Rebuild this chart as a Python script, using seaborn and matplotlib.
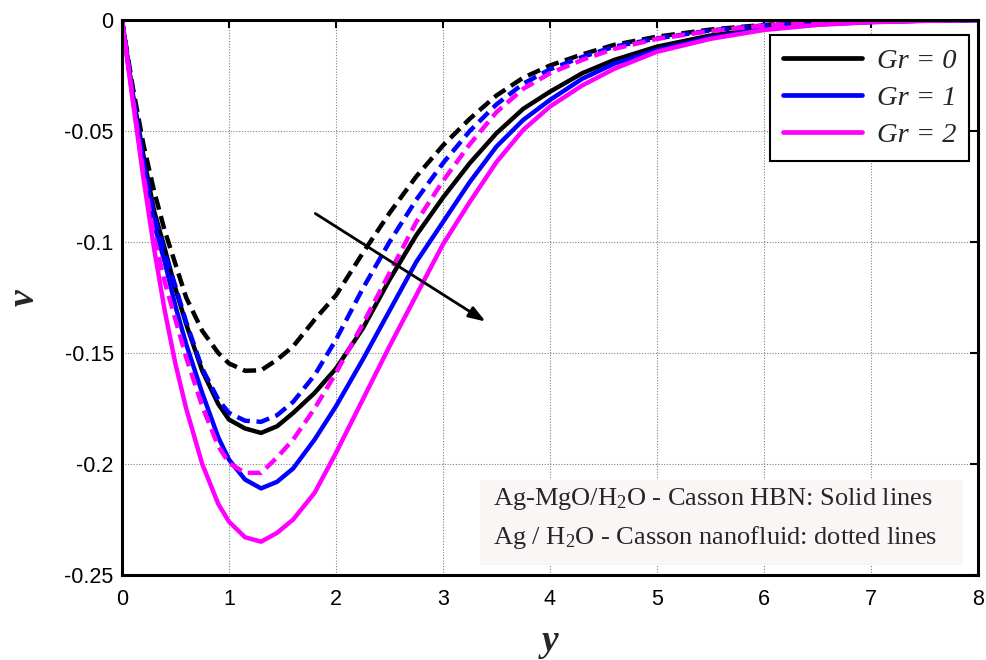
import numpy as np
import pandas as pd
import matplotlib
matplotlib.use("Agg")
import matplotlib.pyplot as plt
import seaborn as sns
from matplotlib.lines import Line2D
from matplotlib.patches import Rectangle

# ---------------- data ----------------
y_pts = [0, 0.1, 0.2, 0.3, 0.4, 0.5, 0.6, 0.75, 0.9, 1.0, 1.15, 1.3, 1.45, 1.6, 1.8,
         2.0, 2.25, 2.5, 2.75, 3.0, 3.25, 3.5, 3.75, 4.0, 4.3, 4.6, 5.0, 5.5, 6.0,
         6.5, 7.0, 7.5, 8.0]

# Ag-MgO/H2O Casson HBN (solid lines)
hbn_gr0 = [0, -0.033, -0.061, -0.086, -0.103, -0.121, -0.137, -0.158, -0.173, -0.180,
           -0.184, -0.186, -0.183, -0.177, -0.168, -0.157, -0.139, -0.117, -0.097,
           -0.080, -0.0645, -0.051, -0.040, -0.0323, -0.024, -0.018, -0.012, -0.007,
           -0.0037, -0.0018, -0.0008, -0.0003, 0]
hbn_gr1 = [0, -0.034, -0.064, -0.092, -0.109, -0.129, -0.146, -0.168, -0.188, -0.198,
           -0.207, -0.211, -0.208, -0.202, -0.189, -0.174, -0.153, -0.131, -0.109,
           -0.091, -0.073, -0.057, -0.045, -0.036, -0.0265, -0.0197, -0.0135, -0.008,
           -0.0042, -0.002, -0.0009, -0.0003, 0]
hbn_gr2 = [0, -0.036, -0.071, -0.103, -0.131, -0.155, -0.175, -0.200, -0.218, -0.226,
           -0.233, -0.235, -0.231, -0.225, -0.213, -0.195, -0.171, -0.147, -0.124,
           -0.101, -0.082, -0.064, -0.0495, -0.039, -0.0295, -0.022, -0.0143, -0.0085,
           -0.0045, -0.0022, -0.001, -0.0004, 0]

# Ag/H2O Casson nanofluid (dashed lines)
nf_gr0 = [0, -0.030, -0.056, -0.077, -0.095, -0.110, -0.125, -0.140, -0.150, -0.1547,
          -0.158, -0.1578, -0.153, -0.147, -0.135, -0.124, -0.105, -0.087, -0.0705,
          -0.0565, -0.0445, -0.034, -0.026, -0.0205, -0.0155, -0.0112, -0.0075,
          -0.0043, -0.0022, -0.001, -0.0004, -0.0001, 0]
nf_gr1 = [0, -0.033, -0.063, -0.088, -0.105, -0.120, -0.136, -0.157, -0.171, -0.177,
          -0.1805, -0.181, -0.178, -0.172, -0.160, -0.144, -0.121, -0.100, -0.081,
          -0.0645, -0.050, -0.038, -0.0287, -0.0222, -0.0167, -0.012, -0.0083,
          -0.0047, -0.0024, -0.0011, -0.0005, -0.0002, 0]
nf_gr2 = [0, -0.035, -0.069, -0.098, -0.118, -0.135, -0.152, -0.174, -0.192, -0.1995,
          -0.204, -0.204, -0.197, -0.189, -0.175, -0.159, -0.137, -0.114, -0.091,
          -0.0725, -0.056, -0.0415, -0.031, -0.024, -0.018, -0.013, -0.0085, -0.005,
          -0.0025, -0.0012, -0.0005, -0.0002, 0]

gr_labels = ["Gr = 0", "Gr = 1", "Gr = 2"]
x_ticks = [0, 1, 2, 3, 4, 5, 6, 7, 8]
y_ticks = [0, -0.05, -0.1, -0.15, -0.2, -0.25]
y_tick_labels = ["0", "-0.05", "-0.1", "-0.15", "-0.2", "-0.25"]
note_lines = ["Ag-MgO/H$_2$O - Casson HBN: Solid lines",
              "Ag / H$_2$O - Casson nanofluid: dotted lines"]

# -------------- long table --------------
rows = []
for fluid, series in [("HBN", [hbn_gr0, hbn_gr1, hbn_gr2]),
                      ("NF", [nf_gr0, nf_gr1, nf_gr2])]:
    for g, vals in zip(gr_labels, series):
        for xx, vv in zip(y_pts, vals):
            rows.append({"y": xx, "v": vv, "Gr": g, "fluid": fluid})
df = pd.DataFrame(rows)

# -------------- style --------------
sns.set_style("white")
plt.rcParams["font.family"] = ["Liberation Sans", "DejaVu Sans"]
plt.rcParams["axes.unicode_minus"] = False
plt.rcParams["mathtext.fontset"] = "custom"
plt.rcParams["mathtext.rm"] = "Liberation Serif"
plt.rcParams["mathtext.it"] = "Liberation Serif:italic"

colors = {"Gr = 0": "#000000", "Gr = 1": "#0000FF", "Gr = 2": "#FF00FF"}

fig = plt.figure(figsize=(9.86, 6.6), dpi=100)
ax = fig.add_axes([0.1237, 0.1288, 0.8682, 0.8409])

sns.lineplot(data=df, x="y", y="v", hue="Gr", style="fluid",
             palette=colors, dashes={"HBN": "", "NF": (3.0, 1.5)},
             estimator=None, sort=False, linewidth=3.2, legend=False, ax=ax)

ax.set_xlim(0, 8)
ax.set_ylim(-0.25, 0)
ax.set_xticks(x_ticks)
ax.set_xticklabels([str(t) for t in x_ticks])
ax.set_yticks(y_ticks)
ax.set_yticklabels(y_tick_labels)
ax.tick_params(direction="in", length=6, width=1.5, top=True, right=True,
               labelsize=15.5, colors="black")
ax.tick_params(axis="x", pad=10)
ax.tick_params(axis="y", pad=6)
for lab in ax.get_xticklabels() + ax.get_yticklabels():
    lab.set_color("black")
for s in ax.spines.values():
    s.set_visible(True)
    s.set_linewidth(2.2)
    s.set_color("black")
ax.grid(True, linestyle=(0, (1, 1.5)), color="#808080", linewidth=0.8)

ax.set_xlabel("y", fontsize=27, fontweight="bold", fontstyle="italic",
              family="Liberation Serif", labelpad=10)
ax.set_ylabel("v", fontsize=27, fontweight="bold", fontstyle="italic",
              family="Liberation Serif", labelpad=16, rotation=90)

# legend (solid lines only)
handles = [Line2D([0], [0], color=colors[g], lw=3.4) for g in gr_labels]
leg = ax.legend(handles, gr_labels, loc="upper right", bbox_to_anchor=(0.9895, 0.973),
                prop={"family": "Liberation Serif", "style": "italic", "size": 20.5},
                frameon=True, fancybox=False, framealpha=1, edgecolor="black",
                handlelength=2.8, handletextpad=0.5, borderpad=0.45,
                labelspacing=0.4, borderaxespad=0)
leg.get_frame().set_linewidth(1.5)

# arrow
ax.annotate("", xy=(3.42, -0.1365), xytext=(1.785, -0.0865),
            arrowprops=dict(arrowstyle="-|>,head_length=1.0,head_width=0.35",
                            color="black", lw=2))

# note box
ax.add_patch(Rectangle((0.418, 0.018), 0.5645, 0.153, transform=ax.transAxes,
                       facecolor="#FAF6F6", edgecolor="none", zorder=3))
ax.text(0.433, 0.137, note_lines[0], transform=ax.transAxes,
        family="Liberation Serif", fontsize=19, ha="left", va="center", zorder=4)
ax.text(0.433, 0.068, note_lines[1], transform=ax.transAxes,
        family="Liberation Serif", fontsize=19, ha="left", va="center", zorder=4)

fig.savefig("out.png", dpi=100)
